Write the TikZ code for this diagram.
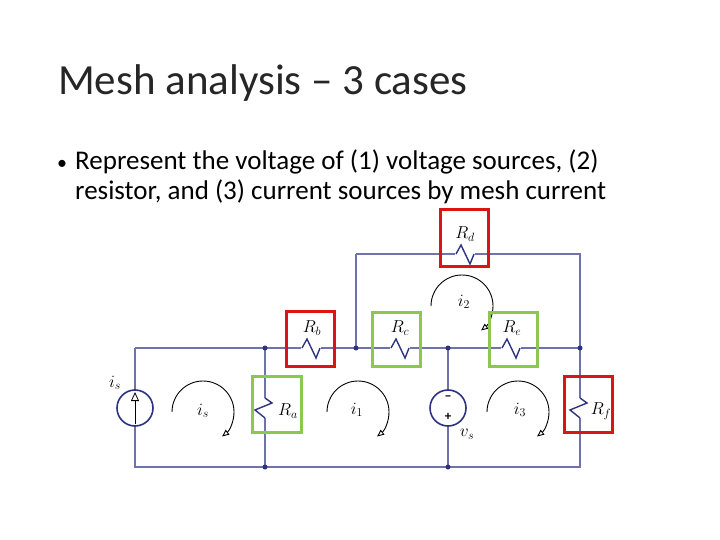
\documentclass[tikz,border=0pt]{standalone}
\usepackage{fontspec}
\setmainfont{Carlito}
\usetikzlibrary{arrows.meta}
\definecolor{wire}{RGB}{110,115,170}
\definecolor{navy}{RGB}{45,50,130}
\definecolor{boxred}{RGB}{220,20,20}
\definecolor{boxgreen}{RGB}{140,200,80}
\begin{document}
\begin{tikzpicture}[x=1pt,y=-1pt,
  w/.style={wire,line width=1.1pt},
  res/.style={navy,line width=1.4pt},
  dot/.style={circle,fill=navy,inner sep=0pt,minimum size=5pt},
  hb/.style={line width=3pt},
  lab/.style={font=\fontsize{17}{17}\selectfont},
  mesh/.style={black,line width=0.9pt,-{Triangle[open,length=7pt,width=6pt]}}]
\useasboundingbox (0,0) rectangle (720,540);
\node[anchor=base west,font=\fontsize{43}{43}\selectfont,inner sep=0pt,text=black!85] (title) at (58,95) {Mesh analysis – 3 cases};
\node[anchor=base west,font=\fontsize{20}{20}\selectfont,inner sep=0pt] (b1) at (57,170) {•};
\node[anchor=base west,font=\fontsize{27}{27}\selectfont,inner sep=0pt] (t1) at (75,170) {Represent the voltage of (1) voltage sources, (2)};
\node[anchor=base west,font=\fontsize{27}{27}\selectfont,inner sep=0pt] (t2) at (75,200) {resistor, and (3) current sources by mesh current};
% coordinates
\coordinate (TL) at (135,348); \coordinate (BL) at (135,467);
\coordinate (N1) at (265,348); \coordinate (B1) at (265,467);
\coordinate (N2) at (356,348); \coordinate (T2) at (356,254);
\coordinate (N3) at (448,348); \coordinate (B3) at (448,467);
\coordinate (N4) at (580,348); \coordinate (T4) at (580,254); \coordinate (B4) at (580,467);
% wires
\draw[w] (TL) -- (N4) (T2) -- (T4) -- (N4) -- (B4) -- (BL) -- (TL);
\draw[w] (N2) -- (T2) (N1) -- (B1) (N3) -- (B3);
% horizontal resistors
\foreach \x/\y in {311/348,400/348,511/348,465/254}{
  \fill[white] (\x-10,\y-1.5) rectangle (\x+10,\y+1.5);
  \draw[res] (\x-9,\y) -- (\x-4,\y-9) -- (\x+5,\y+10) -- (\x+9,\y);
}
% vertical resistors
\foreach \x in {265,580}{
  \fill[white] (\x-1.5,398) rectangle (\x+1.5,418);
  \draw[res] (\x,398) -- (\x+7,403) -- (\x-10,410) -- (\x,418);
}
% current source
\node[circle,draw=navy,line width=1.6pt,fill=white,minimum size=36pt,inner sep=0pt] (is) at (135,408) {};
\draw[black,line width=0.8pt,-{Triangle[open,length=9pt,width=8pt]}] (135,424) -- (135,392);
% voltage source
\node[circle,draw=navy,line width=1.6pt,fill=white,minimum size=36pt,inner sep=0pt] (vs) at (448,408) {};
\node[font=\bfseries\fontsize{13}{13}\selectfont] (vm) at (448,398) {−};
\node[font=\bfseries\fontsize{13}{13}\selectfont] (vp) at (448,417) {+};
% dots
\foreach \p in {N1,N2,N3,N4,B1,B3}{\node[dot] at (\p) {};}
% mesh arrows
\foreach \cx/\cy in {203/412,358/412,518/412,462/306}{
  \draw[mesh] (\cx-31,\cy) arc[start angle=180,end angle=412,radius=31];
}
% labels
\node[lab] (lRd) at (465,234) {$R_d$};
\node[lab] (lRb) at (312,328) {$R_b$};
\node[lab] (lRc) at (400,328) {$R_c$};
\node[lab] (lRe) at (512,328) {$R_e$};
\node[lab] (lRa) at (288,411) {$R_a$};
\node[lab] (lRf) at (601,411) {$R_f$};
\node[lab] (lis) at (115,383) {$i_s$};
\node[lab] (mis) at (203,411) {$i_s$};
\node[lab] (mi1) at (357,410) {$i_1$};
\node[lab] (mi2) at (464,302) {$i_2$};
\node[lab] (mi3) at (520,410) {$i_3$};
\node[lab] (lvs) at (467,434) {$v_s$};
% highlight boxes
\draw[hb,boxred] (440,210) rectangle (488,266);
\draw[hb,boxred] (286,311) rectangle (334,366);
\draw[hb,boxgreen] (372,312) rectangle (420,366);
\draw[hb,boxgreen] (489,312) rectangle (537,366);
\draw[hb,boxgreen] (252,376) rectangle (301,432);
\draw[hb,boxred] (564,376) rectangle (612,432);
\end{tikzpicture}
\end{document}
